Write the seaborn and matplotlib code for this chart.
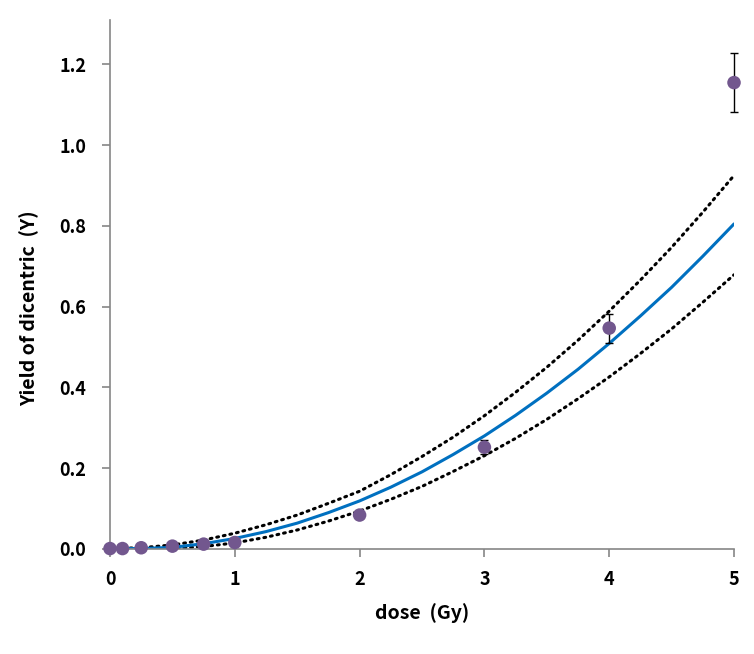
import numpy as np
import pandas as pd
import matplotlib
matplotlib.use("Agg")
import matplotlib.pyplot as plt
import seaborn as sns

# measured dicentric yields
dose = [0, 0.1, 0.25, 0.5, 0.75, 1, 2, 3, 4, 5]
yield_y = [0.001, 0.001, 0.003, 0.007, 0.012, 0.016, 0.084, 0.252, 0.547, 1.155]
yield_err = [0.0, 0.0, 0.0, 0.001, 0.002, 0.003, 0.007, 0.017, 0.036, 0.074]

# fitted curve and 95% bounds
curve_dose = [0, 0.25, 0.5, 0.75, 1, 1.25, 1.5, 1.75, 2, 2.25, 2.5,
              2.75, 3, 3.25, 3.5, 3.75, 4, 4.25, 4.5, 4.75, 5]
fit_y = [0.001, 0.001, 0.004, 0.013, 0.026, 0.043, 0.064, 0.090, 0.119, 0.153, 0.191,
         0.234, 0.280, 0.331, 0.386, 0.445, 0.509, 0.577, 0.648, 0.725, 0.805]
upper_y = [0.001, 0.003, 0.010, 0.022, 0.039, 0.060, 0.084, 0.113, 0.143, 0.184, 0.229,
           0.277, 0.330, 0.388, 0.450, 0.517, 0.589, 0.666, 0.747, 0.834, 0.925]
lower_y = [0.000, 0.000, 0.001, 0.006, 0.015, 0.029, 0.047, 0.069, 0.094, 0.123, 0.155,
           0.192, 0.231, 0.274, 0.321, 0.372, 0.426, 0.484, 0.545, 0.611, 0.679]

points = pd.DataFrame({"dose": dose, "Y": yield_y})
curves = pd.DataFrame({"dose": curve_dose, "fit": fit_y, "upper": upper_y, "lower": lower_y})

sns.set_style("white")
plt.rcParams['font.family'] = ['Noto Sans CJK KR', 'DejaVu Sans']
plt.rcParams['text.color'] = 'black'
plt.rcParams['axes.labelcolor'] = 'black'
plt.rcParams['xtick.color'] = 'black'
plt.rcParams['ytick.color'] = 'black'

fig = plt.figure(figsize=(7.54, 6.54), dpi=100)
ax = fig.add_axes([0.1459, 0.1606, 0.8276, 0.8088])

axis_grey = "#868686"

sns.lineplot(data=curves, x="dose", y="upper", ax=ax, color="black",
             linestyle=(0, (0.6, 1.6)), linewidth=2.2, dash_capstyle="round")
sns.lineplot(data=curves, x="dose", y="lower", ax=ax, color="black",
             linestyle=(0, (0.6, 1.6)), linewidth=2.2, dash_capstyle="round")
sns.lineplot(data=curves, x="dose", y="fit", ax=ax, color="#0070C0", linewidth=2.2)

ax.errorbar(dose, yield_y, yerr=yield_err, fmt="none", ecolor="black",
            elinewidth=1.0, capsize=3, capthick=1.0, clip_on=False, zorder=3)
sns.scatterplot(data=points, x="dose", y="Y", ax=ax, color="#72578E", s=95,
                edgecolor="none", zorder=4, clip_on=False)

ax.set_xlim(0, 5)
ax.set_ylim(0, 1.31)
ax.set_xticks([0, 1, 2, 3, 4, 5])
ax.set_yticks([0.0, 0.2, 0.4, 0.6, 0.8, 1.0, 1.2])
ax.set_xticklabels(["0", "1", "2", "3", "4", "5"])
ax.set_yticklabels(["0.0", "0.2", "0.4", "0.6", "0.8", "1.0", "1.2"])

for side in ["top", "right"]:
    ax.spines[side].set_visible(False)
for side in ["left", "bottom"]:
    ax.spines[side].set_color(axis_grey)
    ax.spines[side].set_linewidth(1.2)

ax.tick_params(axis="both", which="major", direction="out", length=6, width=1.2,
               color=axis_grey, labelcolor="black", labelsize=13, bottom=True, left=True)
ax.tick_params(axis="y", pad=11)
ax.tick_params(axis="x", pad=9)
for lbl in ax.get_xticklabels() + ax.get_yticklabels():
    lbl.set_fontweight("bold")

ax.set_xlabel("dose  (Gy)", fontsize=14, fontweight="bold", labelpad=10, color="black")
ax.set_ylabel("Yield of dicentric  (Y)", fontsize=14, fontweight="bold", color="black")
ax.yaxis.set_label_coords(-0.113, 0.455)

fig.savefig("out.png", dpi=100)
